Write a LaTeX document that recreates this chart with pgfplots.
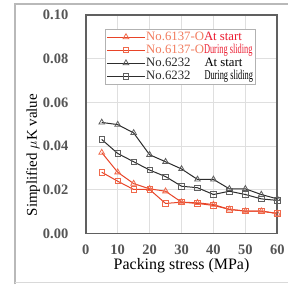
\documentclass[border=0pt]{standalone}
\usepackage{pgfplots}
\pgfplotsset{compat=1.18}
\usepackage{fontspec}
\setmainfont{Liberation Serif}
\definecolor{redline}{RGB}{232,68,40}
\definecolor{redmark}{RGB}{240,105,75}
\definecolor{redtxt}{RGB}{236,30,50}
\definecolor{orgtxt}{RGB}{242,125,95}
\definecolor{blkline}{RGB}{45,45,45}
\definecolor{blkmark}{RGB}{95,95,95}
\definecolor{ticktxt}{RGB}{85,85,85}
\newcommand{\during}{\scalebox{0.62}[1]{\fontsize{13.5}{13.5}\selectfont During sliding}}
\begin{document}
\begin{tikzpicture}
\fill[white] (-86pt,-51pt) rectangle (203pt,234pt);
\draw[gray!55, line width=1.5pt] (-71pt,-51pt) -- (-71pt,230pt) -- (203pt,230pt);
\draw[gray!30, line width=1.2pt] (-71pt,-49pt) -- (203pt,-49pt);
\begin{axis}[
  at={(0pt,0pt)}, anchor=south west,
  scale only axis, width=192pt, height=219pt,
  xmin=0, xmax=60, ymin=0, ymax=0.10,
  xtick={0,10,...,60}, ytick={0,0.02,0.04,0.06,0.08,0.10},
  /pgf/number format/fixed, /pgf/number format/fixed zerofill, /pgf/number format/precision=2,
  xticklabel style={/pgf/number format/precision=0, /pgf/number format/fixed zerofill=false},
  /pgf/number format/assume math mode=true,
  ticklabel style={font=\fontsize{14.5}{15}\selectfont\bfseries, text=ticktxt},
  yticklabel style={xshift=-14pt},
  xticklabel style={yshift=-8pt},
  tick style={draw=none},
  grid=major, major grid style={gray!25, line width=0.8pt},
  axis line style={draw=gray!75!black, line width=1.6pt},
  xlabel={Packing stress (MPa)},
  ylabel={Simplified $\mu$K value},
  xlabel style={font=\fontsize{16}{17}\selectfont, yshift=3pt},
  ylabel style={font=\fontsize{15}{16}\selectfont, yshift=-4pt, xshift=-31pt},
  legend style={at={(0.099,0.936)}, anchor=north west, draw=gray!60, line width=0.6pt,
     font=\fontsize{12.8}{12.8}\selectfont, row sep=0.5pt, inner sep=1.5pt, fill=white,
     nodes={inner sep=0.8pt, text height=9pt, text depth=2pt}},
  legend cell align=left,
  legend image code/.code={\draw[#1] (0pt,0pt) -- (38pt,0pt); \draw[#1] plot coordinates {(19pt,0pt)};},
]
\addplot[redline, line width=1pt, mark=triangle, mark size=3.3pt, mark options={draw=redmark, fill=white, line width=0.8pt}]
 coordinates {(5,0.037)(10,0.028)(15,0.0228)(20,0.0204)(25,0.0193)(30,0.0143)(35,0.014)(40,0.0132)(45,0.011)(50,0.0102)(55,0.0102)(60,0.0091)};
\addlegendentry{\textcolor{orgtxt}{No.6137-O}\textcolor{redtxt}{At start}}
\addplot[redline, line width=1pt, mark=square, mark size=2.7pt, mark options={draw=redmark, fill=white, line width=0.8pt}]
 coordinates {(5,0.028)(10,0.0239)(15,0.0201)(20,0.0201)(25,0.0137)(30,0.0143)(35,0.0137)(40,0.0128)(45,0.011)(50,0.0102)(55,0.0102)(60,0.0091)};
\addlegendentry{\textcolor{orgtxt}{No.6137-O}\textcolor{redtxt}{\during}}
\addplot[blkline, line width=1pt, mark=triangle, mark size=3.3pt, mark options={draw=blkmark, fill=white, line width=0.8pt}]
 coordinates {(5,0.0508)(10,0.0498)(15,0.046)(20,0.036)(25,0.0328)(30,0.0295)(35,0.0247)(40,0.0247)(45,0.0204)(50,0.0204)(55,0.0178)(60,0.0158)};
\addlegendentry{\textcolor{blkline}{No.6232}\hspace{14pt}\textcolor{black}{At start}}
\addplot[blkline, line width=1pt, mark=square, mark size=2.7pt, mark options={draw=blkmark, fill=white, line width=0.8pt}]
 coordinates {(5,0.043)(10,0.0366)(15,0.0328)(20,0.029)(25,0.026)(30,0.0216)(35,0.0209)(40,0.0178)(45,0.0193)(50,0.0178)(55,0.0158)(60,0.0151)};
\addlegendentry{\textcolor{blkline}{No.6232}\hspace{14pt}\textcolor{black}{\during}}
\end{axis}
\end{tikzpicture}
\end{document}
